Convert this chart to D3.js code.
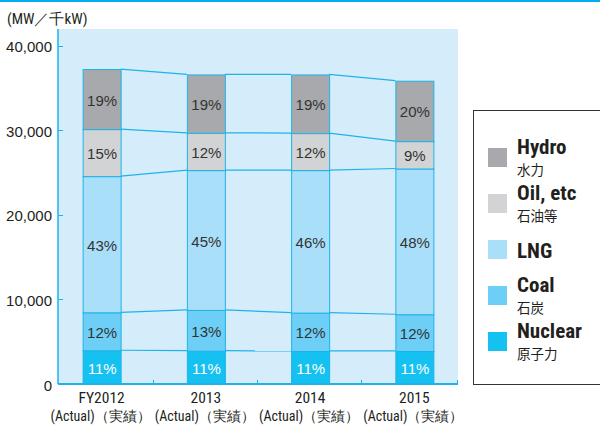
<!DOCTYPE html>
<html>
<head>
<meta charset="utf-8">
<script src="https://cdn.jsdelivr.net/npm/d3@7"></script>
<style>
  body { margin: 0; background: #fff; }
  svg { display: block; }
</style>
</head>
<body>
<div id="chart"></div>
<script>
// data (MW)
var years = ["FY2012", "2013", "2014", "2015"]
var nuclear = [3990, 3940, 3905, 3905]
var coal = [4490, 4820, 4535, 4345]
var lng = [16100, 16530, 16850, 17230]
var oil = [5560, 4410, 4380, 3240]
var hydro = [7100, 6900, 6930, 7140]
var yTicks = [0, 10000, 20000, 30000, 40000]

var sources = ["nuclear", "coal", "lng", "oil", "hydro"]
var legendNames = {hydro: ["Hydro", "水力"], oil: ["Oil, etc", "石油等"], lng: ["LNG", ""], coal: ["Coal", "石炭"], nuclear: ["Nuclear", "原子力"]}
var colors = {nuclear: "#14c1f1", coal: "#6dcff6", lng: "#aadffa", oil: "#d1d3d4", hydro: "#a7a9ac"}
var lineBlue = "#1db3ea"

var rows = years.map(function(y, i) {
  return {year: y, nuclear: nuclear[i], coal: coal[i], lng: lng[i], oil: oil[i], hydro: hydro[i]}
})

var width = 600, height = 425
var narrow = "'Liberation Sans Narrow', 'Roboto Condensed', 'DejaVu Sans Condensed', sans-serif"
var plain = "'Liberation Sans', Arial, sans-serif"

var svg = d3.select("#chart").append("svg")
  .attr("width", width)
  .attr("height", height)

// top rule
svg.append("rect").attr("x", 0).attr("y", 0).attr("width", width).attr("height", 2).attr("fill", "#00aeef")

var plotL = 58, plotR = 458, plotT = 29, plotB = 384

var y = d3.scaleLinear().domain([0, 40000]).range([plotB, 45.7])
var x = d3.scaleBand().domain(years).range([49.5, 466.5]).padding(0)
var barW = 38

// plot background
svg.append("rect")
  .attr("x", plotL).attr("y", plotT)
  .attr("width", plotR - plotL).attr("height", plotB - plotT)
  .attr("fill", "#d5edfa")

var stack = d3.stack().keys(sources)
var series = stack(rows)

function barX(d) { return x(d.data.year) + x.bandwidth() / 2 - barW / 2 }

// connector lines between bars
var bounds = series.map(function(s) { return s.map(function(d) { return d[1] }) })
bounds.forEach(function(b) {
  for (var i = 0; i < years.length - 1; i++) {
    var x1 = x(years[i]) + x.bandwidth() / 2 + barW / 2
    var x2 = x(years[i + 1]) + x.bandwidth() / 2 - barW / 2
    svg.append("line")
      .attr("x1", x1).attr("y1", y(b[i]))
      .attr("x2", x2).attr("y2", y(b[i + 1]))
      .attr("stroke", lineBlue).attr("stroke-width", 1.2)
  }
})

var layer = svg.selectAll(".layer").data(series).enter()
  .append("g").attr("class", "layer")

layer.selectAll("rect").data(function(s) { return s.map(function(d) { d.key = s.key; return d }) })
  .enter().append("rect")
  .attr("x", function(d) { return barX(d) + 0.5 })
  .attr("y", function(d) { return y(d[1]) + 0.5 })
  .attr("width", barW)
  .attr("height", function(d) { return y(d[0]) - y(d[1]) })
  .attr("fill", function(d) { return colors[d.key] })
  .attr("stroke", lineBlue)
  .attr("stroke-width", 1)

layer.selectAll("text").data(function(s) { return s })
  .enter().append("text")
  .attr("x", function(d) { return barX(d) + barW / 2 + 0.5 })
  .attr("y", function(d) { return (y(d[0]) + y(d[1])) / 2 + 1 })
  .attr("text-anchor", "middle")
  .attr("dominant-baseline", "central")
  .attr("font-family", plain)
  .attr("font-size", "15px")
  .attr("fill", function(d) { return d.key == "nuclear" ? "#fff" : "#333" })
  .text(function(d) {
    var total = d3.sum(sources, function(k) { return d.data[k] })
    return Math.round((d[1] - d[0]) / total * 100) + "%"
  })

// y axis
svg.append("line")
  .attr("x1", plotL).attr("x2", plotL).attr("y1", plotT).attr("y2", plotB)
  .attr("stroke", lineBlue).attr("stroke-width", 1.5)
svg.selectAll(".ytick").data(yTicks.filter(function(t) { return t > 0 })).enter()
  .append("line")
  .attr("x1", plotL).attr("x2", plotL + 5)
  .attr("y1", function(d) { return Math.round(y(d)) + 0.5 })
  .attr("y2", function(d) { return Math.round(y(d)) + 0.5 })
  .attr("stroke", lineBlue)
svg.selectAll(".ylab").data(yTicks).enter()
  .append("text")
  .attr("x", 52)
  .attr("y", function(d) { return y(d) + 1 })
  .attr("text-anchor", "end")
  .attr("dominant-baseline", "central")
  .attr("font-family", plain)
  .attr("font-size", "15px")
  .attr("fill", "#231f20")
  .text(function(d) { return d3.format(",")(d) })

// x axis
svg.append("line")
  .attr("x1", plotL).attr("x2", plotR).attr("y1", plotB).attr("y2", plotB)
  .attr("stroke", lineBlue).attr("stroke-width", 2)
var xTickPos = years.slice(1).map(function(yr) { return x(yr) }).concat([plotR])
svg.selectAll(".xtick").data(xTickPos).enter()
  .append("line")
  .attr("x1", function(d) { return Math.round(d) - 0.5 }).attr("x2", function(d) { return Math.round(d) - 0.5 })
  .attr("y1", plotB).attr("y2", plotB - 4)
  .attr("stroke", lineBlue)

svg.selectAll(".xlab").data(years).enter()
  .append("text")
  .attr("x", function(d) { return x(d) + x.bandwidth() / 2 })
  .attr("y", 403)
  .attr("text-anchor", "middle")
  .attr("font-family", narrow)
  .attr("font-size", "15.5px")
  .attr("fill", "#231f20")
  .text(function(d) { return d })
svg.selectAll(".xsub").data(years).enter()
  .append("text")
  .attr("x", function(d) { return x(d) + x.bandwidth() / 2 - 1 })
  .attr("y", 421)
  .attr("text-anchor", "middle")
  .attr("font-family", narrow)
  .attr("font-size", "14px")
  .attr("fill", "#231f20")
  .text("(Actual)（実績）")

// unit label
svg.append("text")
  .attr("x", 7).attr("y", 24)
  .attr("font-family", narrow)
  .attr("font-size", "15px")
  .attr("fill", "#231f20")
  .text("(MW／千kW)")

// legend
svg.append("rect")
  .attr("x", 473.5).attr("y", 110.5)
  .attr("width", 140).attr("height", 274)
  .attr("fill", "#fff").attr("stroke", "#333").attr("stroke-width", 1)

var legendKeys = ["hydro", "oil", "lng", "coal", "nuclear"]
var lg = svg.selectAll(".legends").data(legendKeys).enter()
  .append("g").attr("class", "legends")
  .attr("transform", function(d, i) { return "translate(488," + (148 + i * 46) + ")" })
lg.append("rect").attr("width", 19).attr("height", 19)
  .attr("fill", function(d) { return colors[d] })
lg.append("text")
  .attr("x", 29)
  .attr("y", function(d) { return legendNames[d][1] ? 6 : 18 })
  .attr("font-family", narrow)
  .attr("font-weight", "bold")
  .attr("font-size", "21px")
  .attr("fill", "#231f20")
  .text(function(d) { return legendNames[d][0] })
lg.append("text")
  .attr("x", 29)
  .attr("y", 27)
  .attr("font-family", "'Noto Sans CJK JP', sans-serif")
  .attr("font-size", "13.5px")
  .attr("fill", "#231f20")
  .text(function(d) { return legendNames[d][1] })
</script>
</body>
</html>
